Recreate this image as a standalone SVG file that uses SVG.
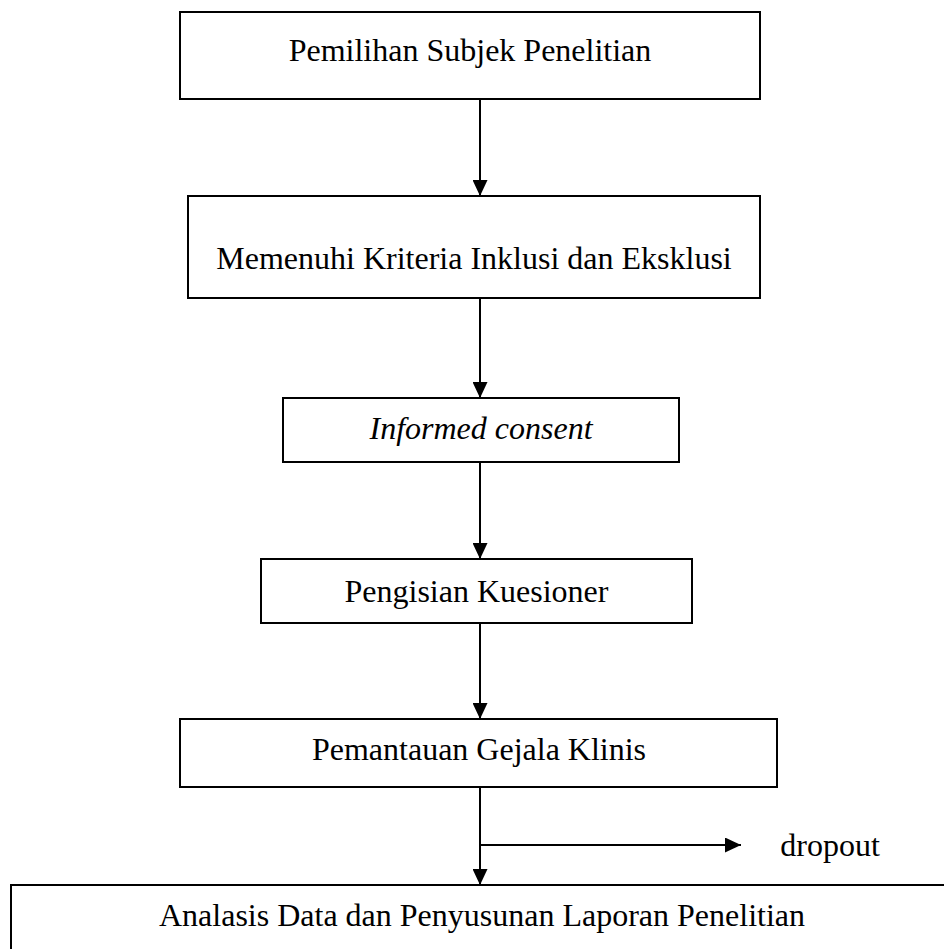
<svg xmlns="http://www.w3.org/2000/svg" width="944" height="949" viewBox="0 0 944 949">
<style>
.box{fill:#fff;stroke:#000;stroke-width:2}
.lbl{font-family:"Liberation Serif","Times New Roman",serif;font-size:32px;fill:#000;text-anchor:middle}
.it{font-style:italic}
.con{stroke:#000;stroke-width:2;fill:none;marker-end:url(#ah)}
</style>
<defs>
<marker id="ah" viewBox="0 0 16 15" refX="16" refY="7.5" markerWidth="16" markerHeight="15" markerUnits="userSpaceOnUse" orient="auto">
<path d="M0,0 L16,7.5 L0,15 Z" fill="#000"/>
</marker>
</defs>
<rect width="944" height="949" fill="#fff"/>
<g id="connectors">
<line class="con" x1="480" y1="99" x2="480" y2="196"/>
<line class="con" x1="480" y1="298" x2="480" y2="398"/>
<line class="con" x1="480" y1="462" x2="480" y2="559"/>
<line class="con" x1="480" y1="623" x2="480" y2="719"/>
<line class="con" x1="480" y1="787" x2="480" y2="885"/>
<line class="con" x1="480" y1="845" x2="741" y2="845"/>
</g>
<g id="n1">
<rect class="box" x="180" y="12" width="580" height="87"/>
<text class="lbl" x="470" y="61">Pemilihan Subjek Penelitian</text>
</g>
<g id="n2">
<rect class="box" x="188" y="196" width="572" height="102"/>
<text class="lbl" x="474" y="269">Memenuhi Kriteria Inklusi dan Eksklusi</text>
</g>
<g id="n3">
<rect class="box" x="283" y="398" width="396" height="64"/>
<text class="lbl it" x="481" y="439">Informed consent</text>
</g>
<g id="n4">
<rect class="box" x="261" y="559" width="431" height="64"/>
<text class="lbl" x="476.5" y="602">Pengisian Kuesioner</text>
</g>
<g id="n5">
<rect class="box" x="180" y="719" width="597" height="68"/>
<text class="lbl" x="479" y="760">Pemantauan Gejala Klinis</text>
</g>
<g id="n6">
<rect class="box" x="11" y="885" width="944" height="80"/>
<text class="lbl" x="482" y="926">Analasis Data dan Penyusunan Laporan Penelitian</text>
</g>
<g id="dropout">
<text class="lbl" x="830" y="856">dropout</text>
</g>
</svg>
